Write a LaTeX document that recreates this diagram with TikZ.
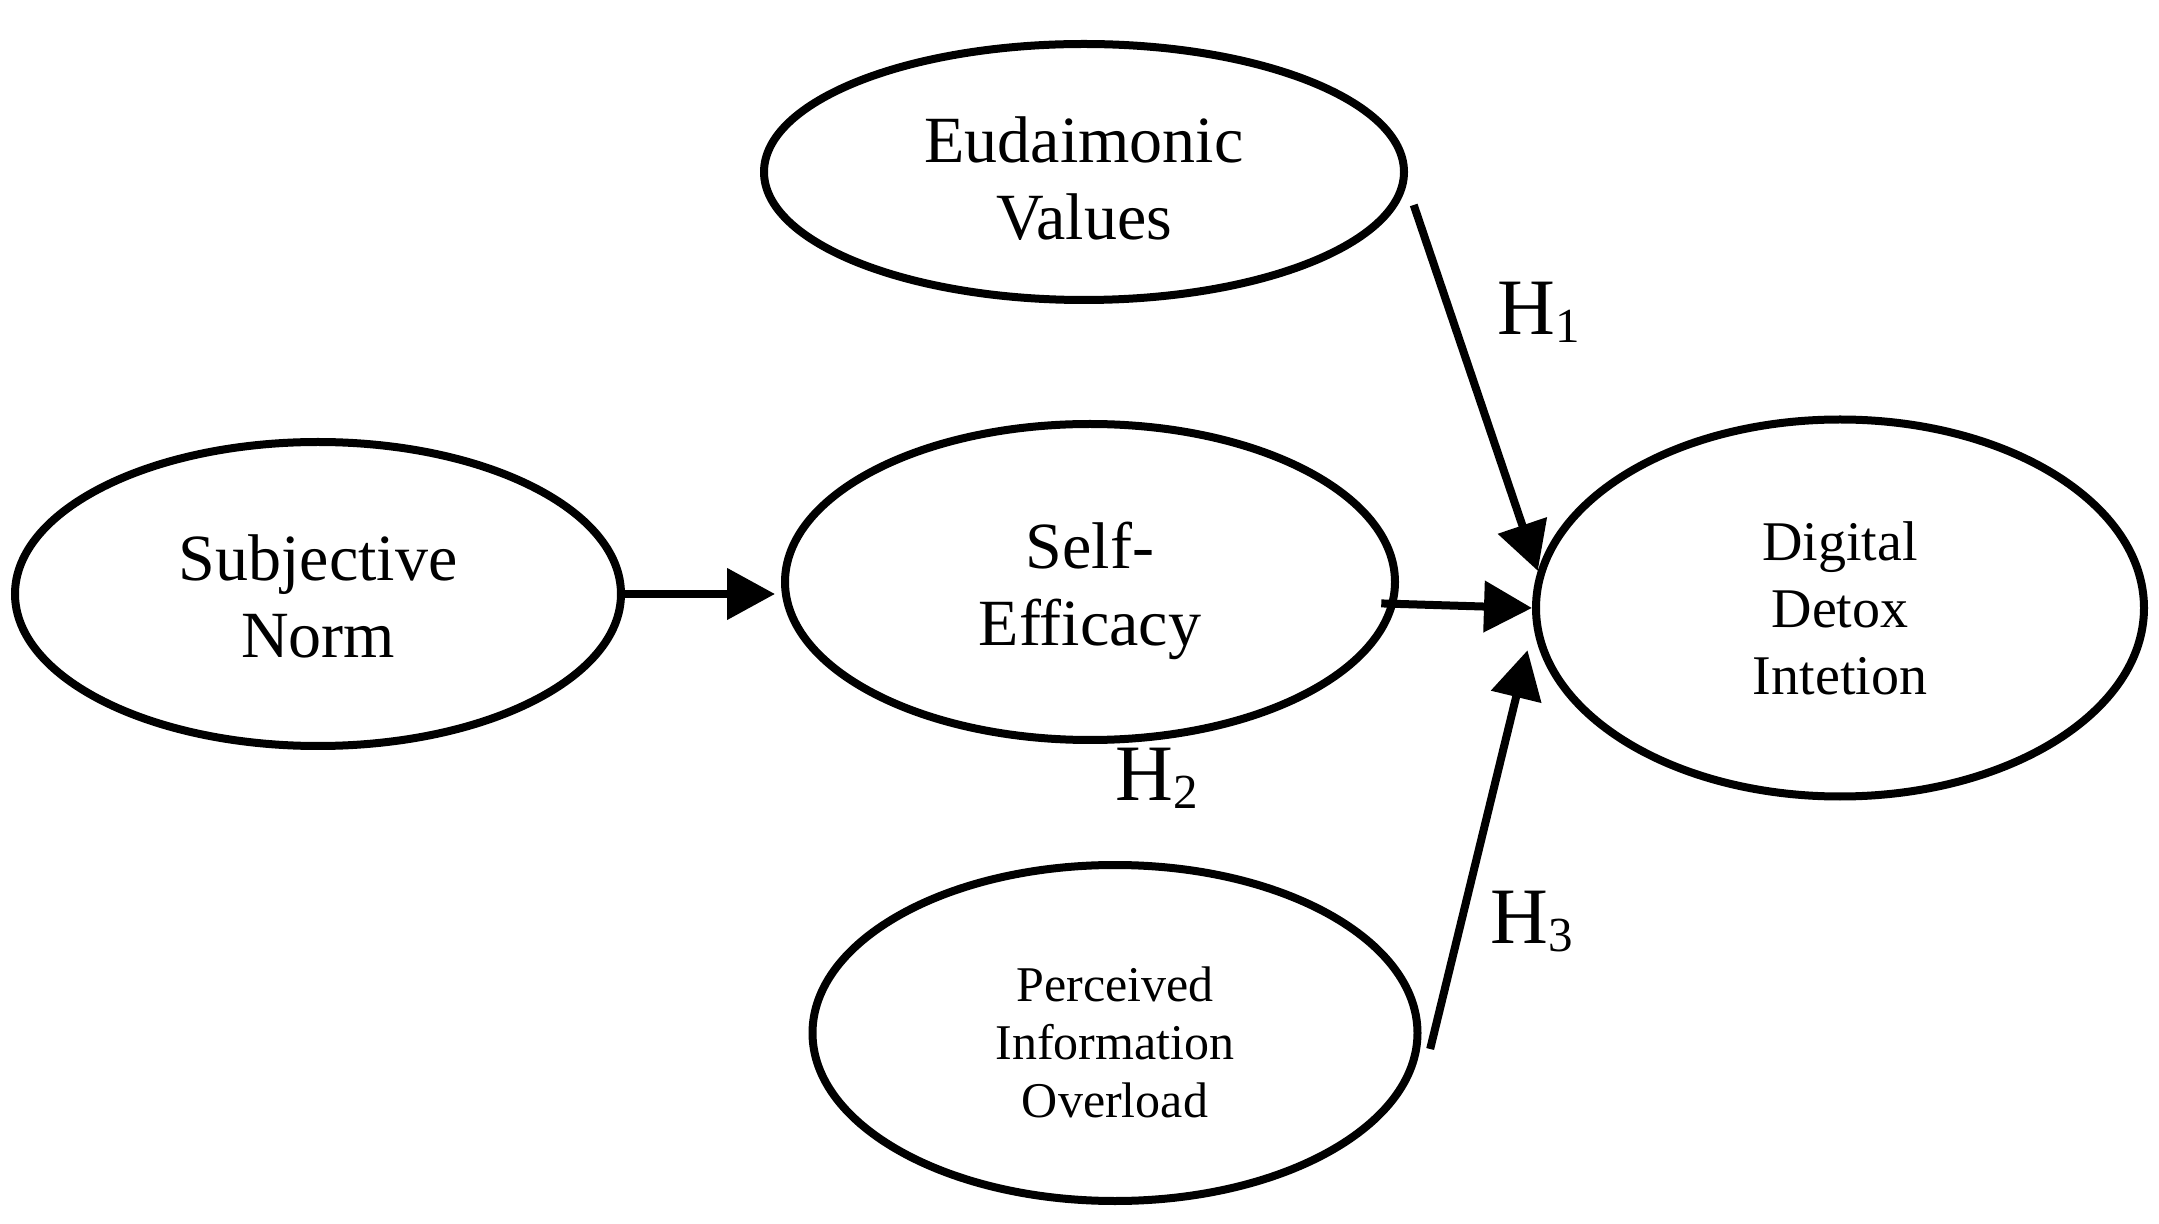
\documentclass[tikz,border=0pt]{standalone}
\usepackage{fontspec}
\setmainfont{Liberation Serif}
\usetikzlibrary{shapes.geometric,arrows.meta}
\begin{document}
\begin{tikzpicture}[x=0.5pt,y=-0.5pt,
  construct/.style={ellipse,draw,line width=4pt,inner sep=0pt,align=center},
  bigtext/.style={font=\fontsize{33}{38.5}\selectfont},
  midtext/.style={font=\fontsize{28}{33.5}\selectfont},
  smalltext/.style={font=\fontsize{25}{29}\selectfont},
  arr/.style={line width=4pt,-{Triangle[length=24pt,width=25pt]}},
  hlabel/.style={anchor=base west,inner sep=0pt,font=\fontsize{40}{40}\selectfont}]
\useasboundingbox[fill=white] (0,0) rectangle (2159,1224);
\node[construct,bigtext,minimum width=320pt,minimum height=128pt] (eud) at (1084,172) {\rule{0pt}{30pt}Eudaimonic\\Values};
\node[construct,bigtext,minimum width=303pt,minimum height=152pt] (sn) at (318,594) {\rule{0pt}{25pt}Subjective\\Norm};
\node[construct,bigtext,minimum width=305pt,minimum height=158pt] (se) at (1090,582) {\rule{0pt}{32.5pt}Self-\\Efficacy};
\node[construct,midtext,minimum width=304pt,minimum height=188.5pt] (dd) at (1840,608) {Digital\\Detox\\Intetion};
\node[construct,smalltext,minimum width=302.5pt,minimum height=168pt] (pio) at (1115,1033) {\rule{0pt}{27pt}Perceived\\Information\\Overload};
\draw[arr,shorten <=-4pt,shorten >=3pt] (sn.east) -- (sn.east -| se.west);
\draw[arr] ([xshift=8pt]eud.-6) -- (dd.173);
\draw[arr] ([xshift=-7.5pt]se.-4) -- (dd.west);
\draw[arr] ([xshift=5pt]pio.-3) -- ([xshift=-6pt]dd.188);
\node[hlabel] (h1) at (1497,335) {H\raisebox{-4pt}{\fontsize{24.5}{24.5}\selectfont 1}};
\node[hlabel] (h2) at (1115,800) {H\raisebox{-4pt}{\fontsize{24.5}{24.5}\selectfont 2}};
\node[hlabel] (h3) at (1490,943) {H\raisebox{-4pt}{\fontsize{24.5}{24.5}\selectfont 3}};
\end{tikzpicture}
\end{document}
